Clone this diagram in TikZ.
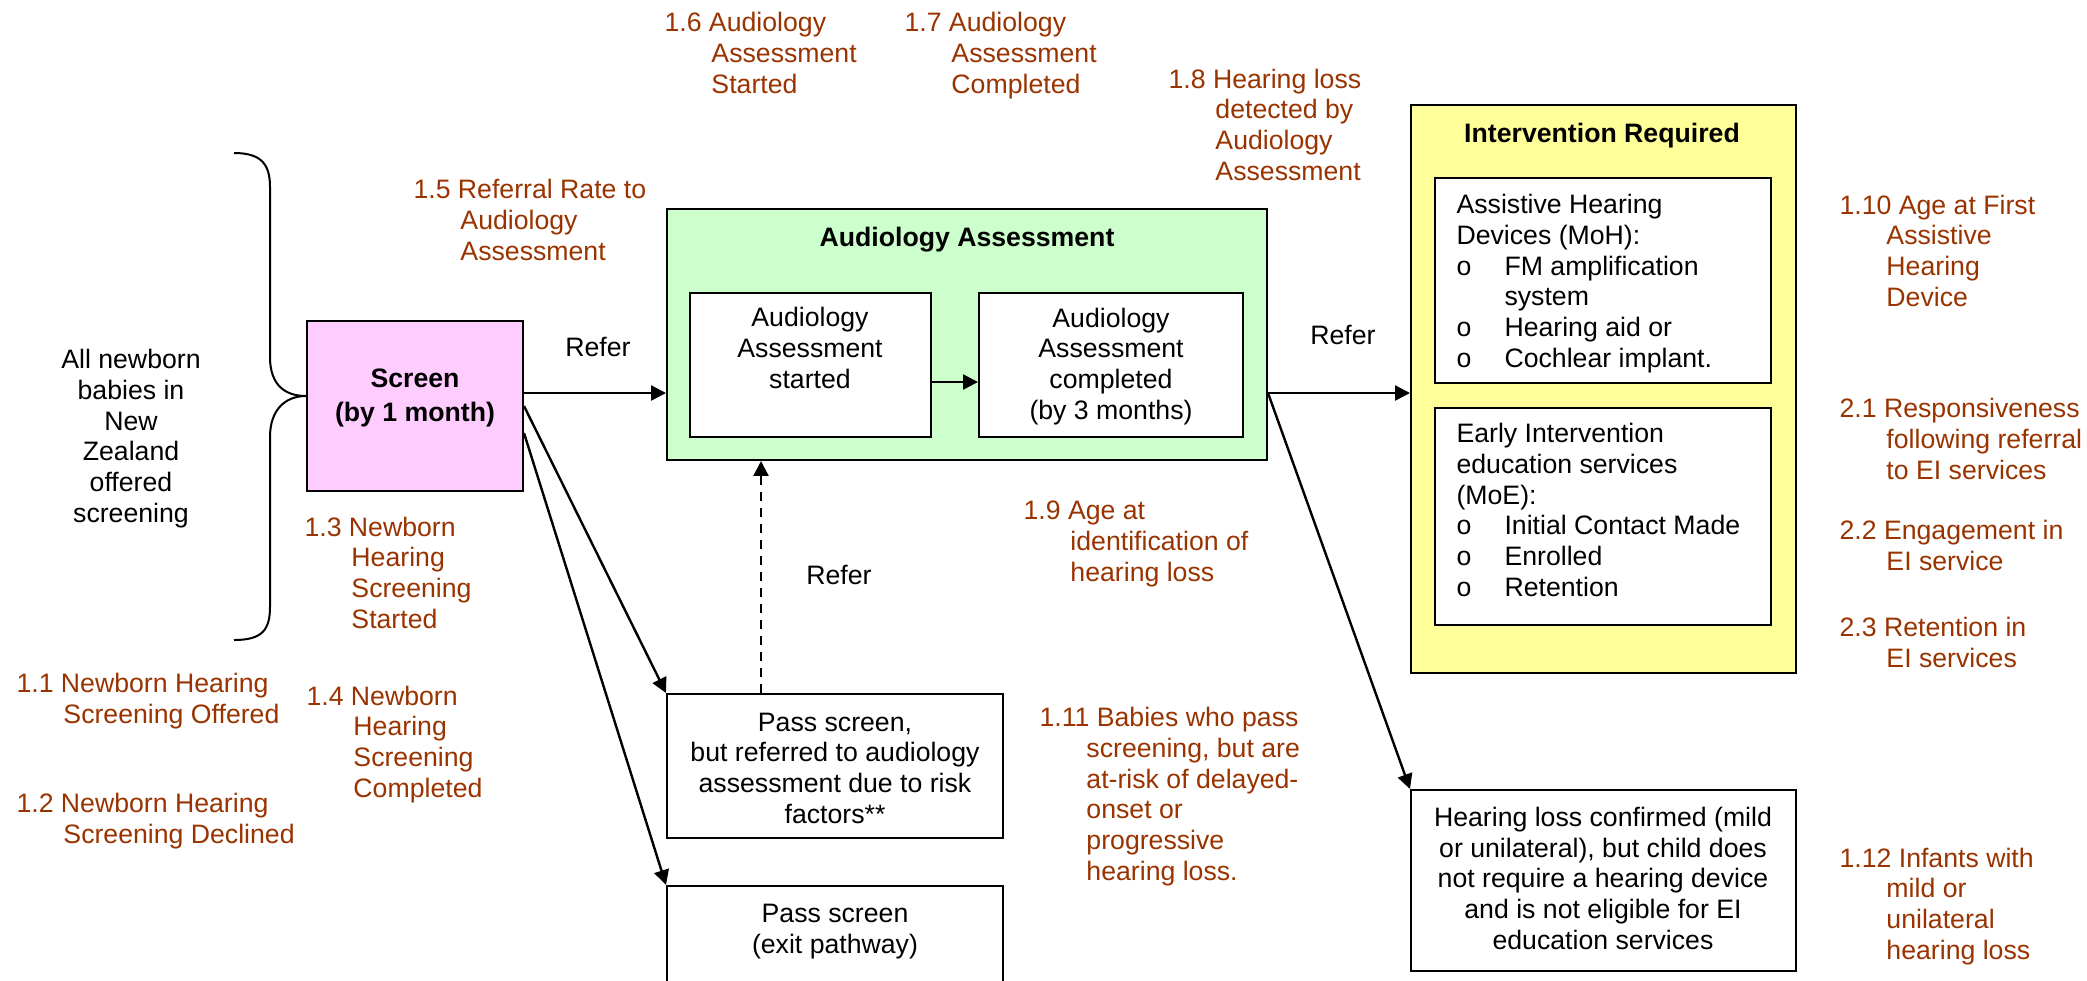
\documentclass[tikz,border=0pt]{standalone}
\usepackage{fontspec}
\setmainfont{Liberation Sans}
\usetikzlibrary{arrows.meta,fit,calc}
\definecolor{lblc}{RGB}{153,51,0}
\definecolor{pinkf}{RGB}{255,204,255}
\definecolor{greenf}{RGB}{204,255,204}
\definecolor{yellowf}{RGB}{255,255,153}
\newcommand\hindent{\hspace*{17.6pt}}
\newcommand\bulitem{\makebox[18pt][l]{o}}
\begin{document}
\begin{tikzpicture}[x=0.375pt,y=-0.375pt,
  every node/.style={font=\fontsize{10}{11.5}\selectfont},
  box/.style={draw, line width=0.75pt, inner sep=0pt},
  lab/.style={text=lblc, align=left, anchor=base west, inner sep=0pt},
  txt/.style={align=center, anchor=base, inner sep=0pt},
  ltxt/.style={align=left, anchor=base west, inner sep=0pt},
  bold/.style={font=\fontsize{10}{12.4}\selectfont\bfseries},
  arr/.style={line width=0.9pt, -{Triangle[length=5.6pt,width=5.6pt]}},
]
\useasboundingbox (0,0) rectangle (2087,980);

% boxes
\node[box, fill=pinkf, fit={(307,321) (523,491)}] (screen) {};
\node[box, fill=greenf, fit={(667,209) (1267,460)}] (green) {};
\node[box, fill=white, fit={(690,293) (931,437)}] (as1) {};
\node[box, fill=white, fit={(979,293) (1243,437)}] (as2) {};
\node[box, fill=white, fit={(667,694) (1003,838)}] (pass1) {};
\node[box, fill=white, fit={(667,886) (1003,1000)}] (pass2) {};
\node[box, fill=yellowf, fit={(1411,105) (1796,673)}] (yellow) {};
\node[box, fill=white, fit={(1435,178) (1771,383)}] (ahd) {};
\node[box, fill=white, fit={(1435,408) (1771,625)}] (ei) {};
\node[box, fill=white, fit={(1411,790) (1796,971)}] (hl) {};

% brace
\draw[line width=0.75pt] (234,153) .. controls (262,153) and (270,165) .. (270,187) -- (270,357)
  .. controls (270,385) and (285,396) .. (306,396)
  .. controls (285,396) and (270,410) .. (270,437) -- (270,607)
  .. controls (270,630) and (262,640) .. (234,640);

% box texts (anchor = baseline of the last line)
\node[txt] (allnb) at (131,522) {All newborn\\babies in\\New\\Zealand\\offered\\screening};
\node[txt, bold] (screentxt) at (415,421) {Screen\\(by 1 month)};
\node[txt, bold] (greentitle) at (967,246) {Audiology Assessment};
\node[txt] (as1txt) at (810,388) {Audiology\\Assessment\\started};
\node[txt] (as2txt) at (1111,419) {Audiology\\Assessment\\completed\\(by 3 months)};
\node[txt] (pass1txt) at (835,823) {Pass screen,\\but referred to audiology\\assessment due to risk\\factors**};
\node[txt] (pass2txt) at (835,953) {Pass screen\\(exit pathway)};
\node[txt, bold] (yellowtitle) at (1602,142) {Intervention Required};
\node[ltxt] (ahdtxt) at (1456,367) {Assistive Hearing\\Devices (MoH):\\\bulitem FM amplification\\\hspace*{18pt}system\\\bulitem Hearing aid or\\\bulitem Cochlear implant.};
\node[ltxt] (eitxt) at (1456,596) {Early Intervention\\education services\\(MoE):\\\bulitem Initial Contact Made\\\bulitem Enrolled\\\bulitem Retention};
\node[txt] (hltxt) at (1603,949) {Hearing loss confirmed (mild\\or unilateral), but child does\\not require a hearing device\\and is not eligible for EI\\education services};

% refer labels
\node[txt] (refer1) at (598,356) {Refer};
\node[txt] (refer2) at (1343,344) {Refer};
\node[txt] (refer3) at (839,584) {Refer};

% connectors
\coordinate (r1) at ($(screen.east)+(0,-13)$);
\draw[arr] (r1) -- (r1 -| green.west);
\draw[arr] (screen.east) -- (pass1.north west);
\draw[arr] ($(screen.east)+(0,27)$) -- (pass2.north west);
\coordinate (a1) at ($(as1.east)+(0,17)$);
\draw[arr] (a1) -- (a1 -| as2.west);
\coordinate (g1) at (green.east |- r1);
\draw[arr] (g1) -- (g1 -| yellow.west);
\draw[arr] (g1) -- (hl.north west);
\coordinate (d1) at ($(pass1.north west)+(95,0)$);
\draw[arr, dash pattern=on 3.5pt off 2.5pt] (d1) -- (d1 |- green.south);

% indicator labels (anchor = baseline of the last line)
\node[lab] (l11) at (16,723) {1.1 Newborn Hearing\\\hindent Screening Offered};
\node[lab] (l12) at (16,843) {1.2 Newborn Hearing\\\hindent Screening Declined};
\node[lab] (l13) at (304,628) {1.3 Newborn\\\hindent Hearing\\\hindent Screening\\\hindent Started};
\node[lab] (l14) at (306,797) {1.4 Newborn\\\hindent Hearing\\\hindent Screening\\\hindent Completed};
\node[lab] (l15) at (413,260) {1.5 Referral Rate to\\\hindent Audiology\\\hindent Assessment};
\node[lab] (l16) at (664,93) {1.6 Audiology\\\hindent Assessment\\\hindent Started};
\node[lab] (l17) at (904,93) {1.7 Audiology\\\hindent Assessment\\\hindent Completed};
\node[lab] (l18) at (1168,180) {1.8 Hearing loss\\\hindent detected by\\\hindent Audiology\\\hindent Assessment};
\node[lab] (l19) at (1023,581) {1.9 Age at\\\hindent identification of\\\hindent hearing loss};
\node[lab] (l110) at (1839,306) {1.10 Age at First\\\hindent Assistive\\\hindent Hearing\\\hindent Device};
\node[lab] (l111) at (1039,880) {1.11 Babies who pass\\\hindent screening, but are\\\hindent at-risk of delayed-\\\hindent onset or\\\hindent progressive\\\hindent hearing loss.};
\node[lab] (l112) at (1839,959) {1.12 Infants with\\\hindent mild or\\\hindent unilateral\\\hindent hearing loss};
\node[lab] (l21) at (1839,479) {2.1 Responsiveness\\\hindent following referral\\\hindent to EI services};
\node[lab] (l22) at (1839,570) {2.2 Engagement in\\\hindent EI service};
\node[lab] (l23) at (1839,667) {2.3 Retention in\\\hindent EI services};
\end{tikzpicture}
\end{document}
